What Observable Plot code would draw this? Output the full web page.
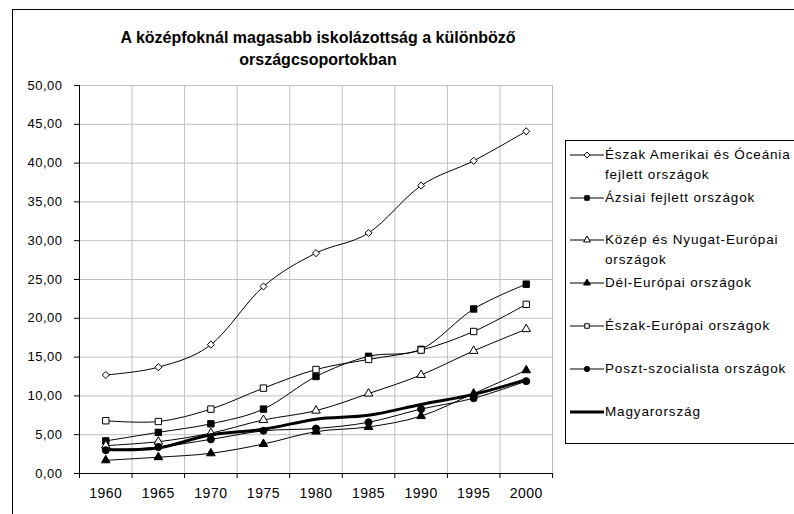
<!DOCTYPE html>
<html>
<head>
<meta charset="utf-8">
<script src="https://cdn.jsdelivr.net/npm/d3@7"></script>
<script src="https://cdn.jsdelivr.net/npm/@observablehq/plot@0.6"></script>
<style>
  html, body { margin: 0; padding: 0; background: #fff; overflow: hidden; }
  #wrap { position: relative; width: 794px; height: 514px; font-family: "Liberation Sans", Arial, sans-serif; color: #000; }
  #wrap svg.plot { position: absolute; left: 0; top: 0; }
  #wrap svg.plot text { letter-spacing: 0.5px; }
  .frame { position: absolute; left: 12px; top: 9px; width: 900px; height: 700px; border-left: 1px solid #000; border-top: 1px solid #000; }
  .title { position: absolute; left: 100px; width: 436px; text-align: center; font-weight: bold; font-size: 16px; line-height: 22px; top: 27px; }
  .legend { position: absolute; left: 565px; top: 140px; width: 400px; height: 302px; border: 1px solid #000; }
  .lg { position: absolute; left: 605px; font-size: 13.5px; line-height: 20px; letter-spacing: 0.85px; white-space: nowrap; }
  .lgsym { position: absolute; left: 569px; }
</style>
</head>
<body>
<div id="wrap">
  <div class="frame"></div>
  <div class="title">A középfoknál magasabb iskolázottság a különböző<br>országcsoportokban</div>
  <div class="legend"></div>
</div>
<script>
const years = [1960, 1965, 1970, 1975, 1980, 1985, 1990, 1995, 2000];
const seriesNames = [
  "Észak Amerikai és Óceánia fejlett országok",
  "Ázsiai fejlett országok",
  "Közép és Nyugat-Európai országok",
  "Dél-Európai országok",
  "Észak-Európai országok",
  "Poszt-szocialista országok",
  "Magyarország"
];
const eszakAmerikai = [12.7, 13.7, 16.6, 24.1, 28.4, 31.0, 37.1, 40.3, 44.1];
const azsiai        = [4.2, 5.3, 6.4, 8.3, 12.5, 15.1, 16.0, 21.2, 24.4];
const kozepNyugat   = [3.6, 4.1, 5.2, 6.9, 8.1, 10.3, 12.7, 15.8, 18.6];
const delEuropai    = [1.7, 2.1, 2.6, 3.8, 5.4, 6.0, 7.4, 10.3, 13.3];
const eszakEuropai  = [6.8, 6.7, 8.3, 11.0, 13.4, 14.7, 15.9, 18.3, 21.8];
const posztSzoc     = [3.0, 3.4, 4.4, 5.5, 5.8, 6.6, 8.3, 9.7, 11.9];
const magyar        = [3.1, 3.3, 5.0, 5.7, 7.0, 7.5, 8.9, 10.2, 12.1];
const yTicks = [0, 5, 10, 15, 20, 25, 30, 35, 40, 45, 50];

const valuesList = [eszakAmerikai, azsiai, kozepNyugat, delEuropai, eszakEuropai, posztSzoc, magyar];
const styles = [
  {symbol: "diamond2", fill: "white", r: 3.2, sw: 1},
  {symbol: "square", fill: "black", r: 3.6, sw: 1},
  {symbol: "triangle", fill: "white", r: 3.2, sw: 1},
  {symbol: "triangle", fill: "black", r: 3.2, sw: 1},
  {symbol: "square", fill: "white", r: 3.6, sw: 1},
  {symbol: "circle", fill: "black", r: 3.5, sw: 1},
  {symbol: null, fill: null, r: 0, sw: 3}
];

const data = [];
seriesNames.forEach((name, i) => {
  years.forEach((yr, j) => data.push({series: name, idx: i, year: yr, value: valuesList[i][j]}));
});

const bounds = d3.range(0, years.length + 1).map(i => years[0] - 2.5 + i * 5);
const fmt = v => v.toFixed(2).replace(".", ",");

const marks = [
  Plot.ruleY(yTicks.filter(v => v > 0), {stroke: "#c0c0c0", strokeWidth: 1}),
  Plot.ruleX(bounds.slice(1), {y1: 0, y2: 50, stroke: "#c0c0c0", strokeWidth: 1}),
  Plot.axisY({ticks: yTicks, tickFormat: fmt, tickSize: 5, tickPadding: 12, fontSize: 13, label: null}),
  Plot.axisX({ticks: bounds, tickFormat: () => "", tickSize: 5, label: null}),
  Plot.axisX({ticks: years, tickFormat: d => String(d), tickSize: 0, tickPadding: 15, fontSize: 14, label: null}),
  Plot.ruleX([bounds[0]], {y1: 0, y2: 50, stroke: "black"}),
  Plot.ruleY([0], {stroke: "black"})
];
seriesNames.forEach((name, i) => {
  const st = styles[i];
  const d = data.filter(r => r.idx === i);
  marks.push(Plot.line(d, {x: "year", y: "value", stroke: "black", strokeWidth: st.sw, curve: "cardinal"}));
  if (st.symbol) {
    marks.push(Plot.dot(d, {x: "year", y: "value", symbol: () => st.symbol, r: st.r, fill: st.fill, stroke: "black", strokeWidth: 1}));
  }
});

const chart = Plot.plot({
  width: 794,
  height: 514,
  marginLeft: 79,
  marginRight: 242,
  marginTop: 85,
  marginBottom: 41,
  style: {fontFamily: "Liberation Sans, Arial, sans-serif", fontSize: "13px", background: "transparent", color: "black", overflow: "visible"},
  x: {domain: [bounds[0], bounds[bounds.length - 1]], axis: null},
  y: {domain: [0, 50], axis: null},
  symbol: {type: "identity"},
  marks
});
chart.classList.add("plot");
const wrap = document.getElementById("wrap");
wrap.insertBefore(chart, wrap.firstChild);

// Legend
const legendRows = [
  {lines: ["Észak Amerikai és Óceánia", "fejlett országok"], y: 155},
  {lines: ["Ázsiai fejlett országok"], y: 198},
  {lines: ["Közép és Nyugat-Európai", "országok"], y: 240},
  {lines: ["Dél-Európai országok"], y: 283},
  {lines: ["Észak-Európai országok"], y: 326},
  {lines: ["Poszt-szocialista országok"], y: 369},
  {lines: ["Magyarország"], y: 412}
];
const symPaths = {
  diamond2: d3.symbol(d3.symbolDiamond2, 22)(),
  square: d3.symbol(d3.symbolSquare, 20)(),
  triangle: d3.symbol(d3.symbolTriangle, 20)(),
  circle: d3.symbol(d3.symbolCircle, 22)()
};
legendRows.forEach((row, i) => {
  const st = styles[i];
  const t = document.createElement("div");
  t.className = "lg";
  t.style.top = (row.y - 10) + "px";
  t.innerHTML = row.lines.join("<br>");
  wrap.appendChild(t);
  const s = d3.create("svg").attr("class", "lgsym").attr("width", 38).attr("height", 12)
    .style("top", (row.y - 6) + "px");
  s.append("line").attr("x1", 1).attr("x2", 35).attr("y1", 6).attr("y2", 6)
    .attr("stroke", "black").attr("stroke-width", st.sw);
  if (st.symbol) {
    s.append("path").attr("d", symPaths[st.symbol]).attr("transform", "translate(18,6)")
      .attr("fill", st.fill).attr("stroke", "black").attr("stroke-width", 1);
  }
  wrap.appendChild(s.node());
});
</script>
</body>
</html>
